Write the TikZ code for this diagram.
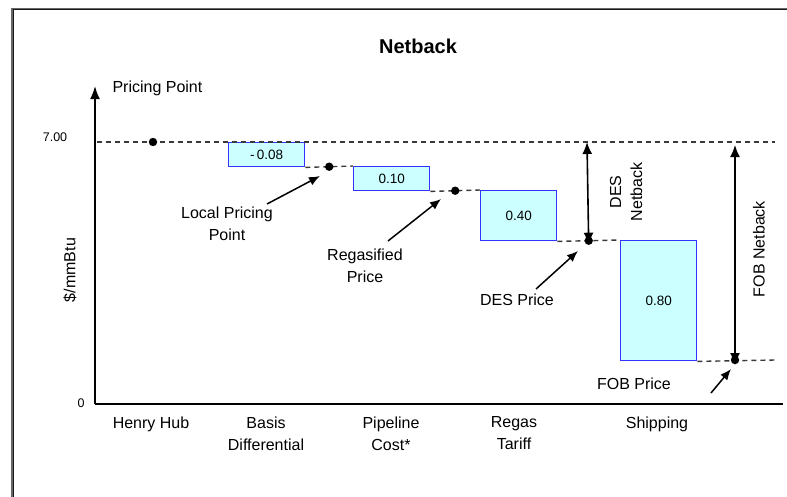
\documentclass[tikz,border=0pt]{standalone}
\usepackage{fontspec}
\setmainfont{Liberation Sans}
\usetikzlibrary{calc,arrows.meta}
\definecolor{boxfill}{HTML}{CCFFFF}
\definecolor{boxline}{HTML}{3333FF}
\tikzset{
  costbox/.style={draw=boxline, fill=boxfill, line width=1.4pt, anchor=north west,
    minimum width=76, inner sep=0pt, font=\fontsize{13.5}{15}\selectfont},
  level/.style={gray!45!black, dash pattern=on 5pt off 4pt, line width=1.4pt},
  lbl/.style={align=center, font=\fontsize{16}{22}\selectfont},
  small/.style={font=\fontsize{12.5}{14}\selectfont},
  callout/.style={-{Latex[length=11pt,width=9pt]}, line width=1.5pt},
  span/.style={{Latex[length=12pt,width=10pt]}-{Latex[length=12pt,width=10pt]}, line width=1.6pt}
}
\begin{document}
\begin{tikzpicture}[x=1pt, y=-1pt]
  \useasboundingbox (0,0) rectangle (787,496);
  % frame
  \draw[black!60, line width=2.4pt] (12,500) -- (12,9) -- (790,9);
  \draw[black!90, line width=0.8pt] (13,500) -- (13,9.5) -- (790,9.5);
  \node[font=\bfseries\fontsize{20}{24}\selectfont] (title) at (418,46) {Netback};

  % axes
  \draw[line width=1.8pt] (783,404) -- (95,404);
  \draw[-{Latex[length=13pt,width=10pt]}, line width=1.8pt] (95,404) -- (95,86);
  \node[lbl, anchor=west] (pp) at (109,88) {Pricing Point};
  \node[small] (ytop) at (55,137) {7.00};
  \node[small] (yzero) at (81,403) {0};
  \node[lbl, rotate=90] (unit) at (70,270) {\$/mmBtu};

  % cost steps
  \node[costbox, minimum height=24] (basis) at (228,142) {-\,0.08};
  \node[costbox, minimum height=24] (pipe) at (353,166) {0.10};
  \node[costbox, minimum height=50] (regas) at (480,190) {0.40};
  \node[costbox, minimum height=120] (ship) at (620,240) {0.80};

  % price levels
  \coordinate (hh) at (153,142);
  \coordinate (lpp) at ($(basis.south east)!0.5!(pipe.north west)$);
  \coordinate (rgp) at ($(pipe.south east)!0.5!(regas.north west)$);
  \coordinate (des) at ($(regas.south east)!0.5!(ship.north west)$);
  \coordinate (fob) at (735,360);
  \coordinate (lvlend) at (775,142);
  \coordinate (fobend) at (775,360);

  \draw[level] (97,142) -- (lvlend);
  \draw[level] (basis.south east) -- (pipe.north west);
  \draw[level] (pipe.south east) -- (regas.north west);
  \draw[level] (regas.south east) -- (ship.north west);
  \draw[level] (ship.south east) -- (fobend);

  \foreach \p in {hh, lpp, rgp, des, fob}
    \fill (\p) circle (4.2);

  % netback spans
  \draw[span] (587,142) -- ([yshift=-4]des);
  \node[lbl, rotate=90] (desnb) at (626,192) {DES\\[-1pt]Netback};
  \draw[span] (735,145) -- ([yshift=-5]fob);
  \node[lbl, rotate=90] (fobnb) at (759,249) {FOB Netback};

  % callouts
  \node[lbl] (lpptxt) at (227,224) {Local Pricing\\Point};
  \node[lbl] (rgptxt) at (365,266) {Regasified\\Price};
  \node[lbl] (destxt) at (517,300) {DES Price};
  \node[lbl] (fobtxt) at (634,384) {FOB Price};
  \coordinate (c1a) at (267,204);
  \coordinate (c1b) at (320,176);
  \coordinate (c2a) at (388,241);
  \coordinate (c2b) at (441,199);
  \coordinate (c3a) at (536,289);
  \coordinate (c3b) at (578,251);
  \coordinate (c4a) at (711,393);
  \coordinate (c4b) at (731,369);
  \draw[callout] (c1a) -- (c1b);
  \draw[callout] (c2a) -- (c2b);
  \draw[callout] (c3a) -- (c3b);
  \draw[callout] (c4a) -- (c4b);

  % categories
  \node[lbl] (henry) at (151,424) {Henry Hub};
  \node[lbl, anchor=north] (basistxt) at (266,413) {Basis\\Differential};
  \node[lbl, anchor=north] (pipetxt) at (391,413) {Pipeline\\Cost*};
  \node[lbl, anchor=north] (regastxt) at (514,413) {Regas\\Tariff};
  \node[lbl] (shiptxt) at (657,424) {Shipping};
\end{tikzpicture}
\end{document}
